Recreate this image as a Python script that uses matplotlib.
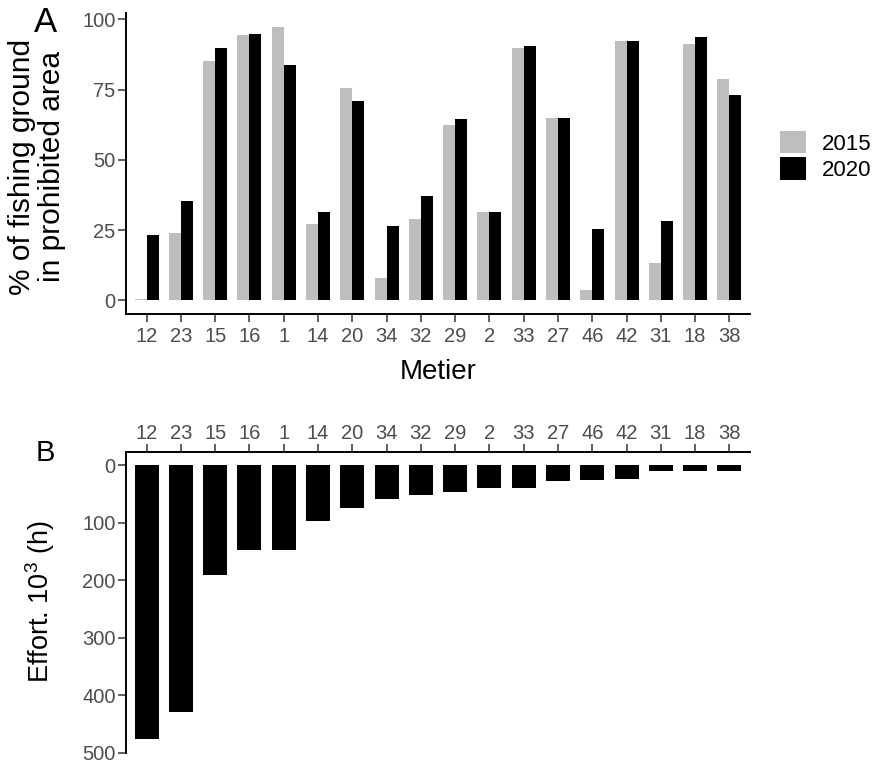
import numpy as np
import matplotlib
matplotlib.use('Agg')
import matplotlib.pyplot as plt
from matplotlib.patches import Patch

plt.rcParams['font.family'] = ['Liberation Sans', 'DejaVu Sans']
plt.rcParams['mathtext.fontset'] = 'custom'
plt.rcParams['mathtext.rm'] = 'Liberation Sans'
plt.rcParams['mathtext.it'] = 'Liberation Sans:italic'

# Data
metier = ['12', '23', '15', '16', '1', '14', '20', '34', '32', '29',
          '2', '33', '27', '46', '42', '31', '18', '38']
pct_2015 = [0.3, 24.1, 85.2, 94.3, 97.4, 27.3, 75.4, 8.0, 28.8, 62.4,
            31.4, 89.7, 65.0, 3.6, 92.4, 13.4, 91.1, 78.9]
pct_2020 = [23.2, 35.4, 89.7, 94.8, 83.9, 31.5, 70.9, 26.4, 37.2, 64.6,
            31.4, 90.7, 65.0, 25.4, 92.4, 28.3, 93.7, 73.0]
effort = [477, 429, 191, 147, 147, 96.5, 74.4, 58.7, 52.3, 45.9,
          39.5, 39.5, 27.9, 25.6, 23.8, 10.5, 10.5, 10.5]
years = ['2015', '2020']
year_colors = ['#BEBEBE', '#000000']

W, H = 877, 767
fig = plt.figure(figsize=(W / 100, H / 100), dpi=100)

tick_col = '#4D4D4D'
tick_fs = 14.5

def style_axes(ax):
    for s in ax.spines.values():
        s.set_linewidth(1.4)
        s.set_color('black')
    ax.tick_params(length=5.5, width=1.1, color='#333333',
                   labelcolor=tick_col, labelsize=tick_fs)

x = np.arange(len(metier))
w = 0.35

# Panel A
axA = fig.add_axes([126 / W, 1 - 314 / H, 624 / W, 301 / H])
axA.bar(x - w / 2, pct_2015, w, color=year_colors[0], linewidth=0)
axA.bar(x + w / 2, pct_2020, w, color=year_colors[1], linewidth=0)
ymax = max(max(pct_2015), max(pct_2020))
axA.set_ylim(-0.05 * ymax, 1.05 * ymax)
axA.set_xlim(-0.6, len(metier) - 0.4)
axA.set_xticks(x)
axA.set_xticklabels(metier)
axA.set_yticks([0, 25, 50, 75, 100])
axA.spines['top'].set_visible(False)
axA.spines['right'].set_visible(False)
style_axes(axA)
axA.tick_params(axis='x', pad=3.5)
axA.tick_params(axis='y', pad=2)

fig.text(438 / W, 1 - 372 / H, 'Metier', ha='center', va='center', fontsize=20)
fig.text(37 / W, 1 - 167 / H, '% of fishing ground\nin prohibited area',
         ha='center', va='center', rotation=90, fontsize=21.5, linespacing=1.08)
fig.text(45 / W, 1 - 22.5 / H, 'A', ha='center', va='center', fontsize=25)

handles = [Patch(facecolor=c, edgecolor='none') for c in year_colors]
fig.legend(handles, years, loc='upper left', bbox_to_anchor=(780 / W, 1 - 131 / H),
           frameon=False, fontsize=16, handlelength=1.17, handleheight=1.17,
           handletextpad=0.7, labelspacing=0.12, borderpad=0, borderaxespad=0)

# Panel B
axB = fig.add_axes([126 / W, 1 - 753 / H, 624 / W, 301.3 / H])
axB.bar(x, effort, 0.7, color='black', linewidth=0)
emax = max(effort)
axB.set_ylim(1.05 * emax, -0.05 * emax)
axB.set_xlim(-0.6, len(metier) - 0.4)
axB.set_xticks(x)
axB.set_xticklabels(metier)
axB.set_yticks([0, 100, 200, 300, 400, 500])
axB.xaxis.tick_top()
axB.spines['bottom'].set_visible(False)
axB.spines['right'].set_visible(False)
style_axes(axB)
axB.tick_params(axis='x', pad=1)
axB.tick_params(axis='y', pad=2)

fig.text(40 / W, 1 - 602 / H, r'Effort. 10$^{3}$ (h)', ha='center', va='center',
         rotation=90, fontsize=19.5)
fig.text(45 / W, 1 - 453 / H, 'B', ha='center', va='center', fontsize=21)

fig.savefig('out.png', dpi=100, facecolor='white')
